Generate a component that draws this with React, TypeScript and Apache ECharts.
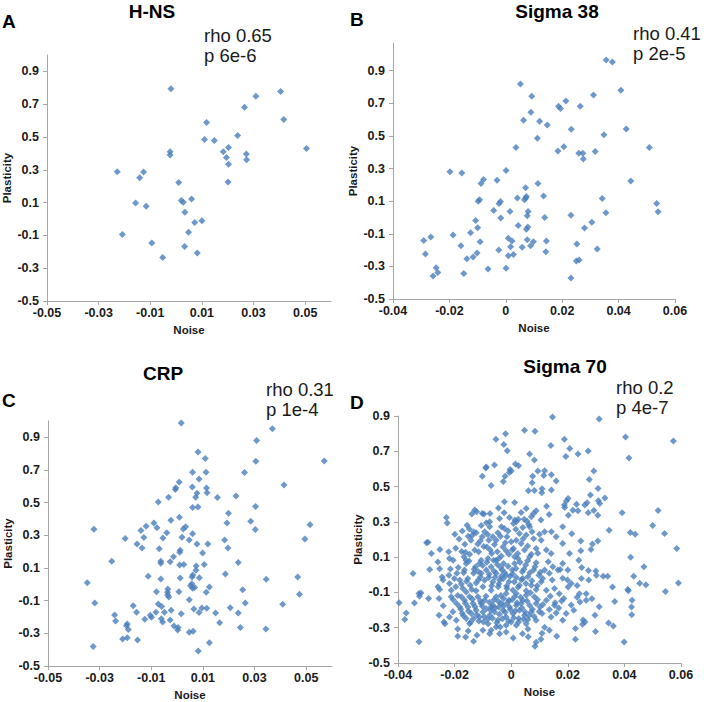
import React, { useEffect, useRef } from "react";
import * as echarts from "echarts";

const FONT = '"Liberation Sans", Arial, sans-serif';

const xTicksA = [-0.05, -0.03, -0.01, 0.01, 0.03, 0.05];
const xTicksB = [-0.04, -0.02, 0, 0.02, 0.04, 0.06];
const yTicks = [-0.5, -0.3, -0.1, 0.1, 0.3, 0.5, 0.7, 0.9];

const panelTitles = ["H-NS", "Sigma 38", "CRP", "Sigma 70"];
const panelLetters = ["A", "B", "C", "D"];
const rhoTexts = ["rho 0.65", "rho 0.41", "rho 0.31", "rho 0.2"];
const pTexts = ["p 6e-6", "p 2e-5", "p 1e-4", "p 4e-7"];

const hnsData = [
  [-0.002, 0.794], [0.0405, 0.778], [0.0309, 0.749], [0.0265, 0.682], [0.0417, 0.607], [0.0118, 0.589],
  [0.0238, 0.509], [0.011, 0.485], [0.0148, 0.479], [0.0505, 0.43], [0.0203, 0.436], [0.0183, 0.41],
  [-0.0023, 0.41], [-0.0023, 0.391], [0.0195, 0.375], [0.0272, 0.397], [0.0273, 0.361], [0.0203, 0.334],
  [-0.0228, 0.288], [-0.0126, 0.286], [-0.0141, 0.251], [0.001, 0.222], [0.0201, 0.225], [-0.0157, 0.098],
  [0.006, 0.122], [0.002, 0.113], [0.0028, 0.102], [-0.0116, 0.078], [0.0034, 0.041], [0.01, -0.011],
  [0.0072, -0.022], [-0.0208, -0.095], [0.0048, -0.081], [-0.0094, -0.146], [0.0033, -0.168],
  [0.0082, -0.207], [-0.0052, -0.235],
];

const sigma38Data = [
  [0.0356, 0.965], [0.0378, 0.953], [0.0052, 0.818], [0.0408, 0.78], [0.0092, 0.743], [0.0311, 0.751],
  [0.0213, 0.714], [0.0187, 0.682], [0.0194, 0.669], [0.0264, 0.682], [0.0089, 0.645], [0.0063, 0.596],
  [0.012, 0.59], [0.0147, 0.567], [0.0232, 0.541], [0.0427, 0.543], [0.0348, 0.508], [0.0112, 0.486],
  [0.0036, 0.429], [0.0206, 0.433], [0.0509, 0.429], [0.0185, 0.408], [0.0317, 0.404], [0.0259, 0.394],
  [0.0273, 0.394], [0.0275, 0.359], [-0.0198, 0.28], [-0.0156, 0.273], [0.0001, 0.288], [-0.0079, 0.233],
  [-0.0088, 0.208], [-0.0031, 0.229], [0.0114, 0.208], [0.0443, 0.224], [0.007, 0.182], [0.0134, 0.131],
  [0.0073, 0.129], [0.0041, 0.12], [0.0071, 0.12], [0.0066, 0.108], [0.0342, 0.116], [-0.0093, 0.108],
  [-0.0098, 0.1], [-0.0019, 0.098], [-0.0024, 0.086], [0.0535, 0.086], [0.054, 0.035], [0.0355, 0.029],
  [-0.0043, 0.043], [0.0015, 0.037], [0.0079, 0.037], [0.0076, 0.01], [0.0231, 0.014], [-0.0018, -0.004],
  [0.0138, 0.0], [-0.0107, -0.018], [0.0305, -0.029], [0.0044, -0.049], [0.0078, -0.059], [0.0073, -0.073],
  [-0.01, -0.063], [0.0279, -0.065], [-0.0187, -0.108], [-0.0125, -0.094], [-0.0291, -0.141], [-0.0266, -0.12],
  [-0.0091, -0.149], [0.0009, -0.127], [0.0022, -0.145], [0.0076, -0.137], [0.0098, -0.149], [0.0144, -0.145],
  [-0.0159, -0.173], [0.0017, -0.18], [0.0058, -0.182], [0.0088, -0.173], [0.0252, -0.163], [-0.0025, -0.2],
  [0.0324, -0.194], [-0.0285, -0.224], [-0.0102, -0.218], [0.0009, -0.235], [0.0027, -0.227], [0.0142, -0.21],
  [-0.0138, -0.253], [-0.0116, -0.243], [0.025, -0.267], [0.026, -0.261], [-0.0247, -0.308], [-0.0241, -0.337],
  [-0.0149, -0.343], [-0.0063, -0.316], [0.0001, -0.312], [-0.0258, -0.359], [0.0231, -0.371],
];

const crpData = [
  [0.0016, 0.988], [0.0369, 0.953], [0.0308, 0.88], [0.0081, 0.81], [0.0109, 0.771], [0.0305, 0.753],
  [0.057, 0.755], [0.0261, 0.684], [0.006, 0.686], [0.0112, 0.686], [0.0085, 0.645], [0.0008, 0.627],
  [0.0414, 0.608], [-0.0005, 0.592], [-0.0007, 0.58], [0.0059, 0.596], [0.0114, 0.59], [0.0077, 0.557],
  [0.0116, 0.561], [0.0072, 0.533], [-0.0033, 0.533], [0.0156, 0.531], [0.0228, 0.541], [-0.0073, 0.504],
  [0.006, 0.471], [0.0081, 0.473], [0.0304, 0.476], [0.0199, 0.435], [0.0009, 0.41], [-0.0024, 0.392],
  [0.0285, 0.386], [0.0193, 0.376], [-0.009, 0.376], [0.0515, 0.365], [-0.012, 0.355], [0.0033, 0.353],
  [-0.0078, 0.347], [0.0024, 0.339], [-0.0322, 0.337], [-0.014, 0.329], [-0.004, 0.316], [0.006, 0.31],
  [0.0303, 0.335], [-0.0201, 0.28], [-0.0129, 0.286], [-0.0055, 0.284], [0.0019, 0.288], [0.0047, 0.271],
  [0.0495, 0.278], [0.0184, 0.271], [-0.0155, 0.247], [0.0077, 0.247], [0.0119, 0.247], [0.0099, 0.192],
  [-0.0136, 0.222], [-0.0069, 0.218], [0.0197, 0.222], [0.0012, 0.208], [0.001, 0.196], [-0.0014, 0.169],
  [-0.0027, 0.139], [-0.0063, 0.141], [-0.0063, 0.129], [-0.0253, 0.141], [0.0237, 0.133], [0.001, 0.118],
  [0.0026, 0.122], [0.0074, 0.112], [0.0105, 0.122], [0.0073, 0.086], [-0.0112, 0.049], [0.0187, 0.063],
  [0.0061, 0.057], [0.0058, 0.045], [0.0012, 0.039], [0.0086, 0.041], [-0.0063, 0.033], [0.0467, 0.045],
  [0.0345, 0.031], [-0.0348, 0.01], [0.0057, 0.004], [0.0052, -0.008], [0.006, -0.024], [0.0068, -0.02],
  [0.0125, -0.016], [-0.0036, -0.029], [0.0254, -0.033], [-0.008, -0.045], [-0.0037, -0.049], [0.0007, -0.045],
  [0.0113, -0.049], [0.0047, -0.094], [-0.0037, -0.065], [-0.0032, -0.078], [0.0474, -0.061], [-0.0319, -0.114],
  [0.0264, -0.114], [-0.017, -0.131], [0.0409, -0.122], [-0.0073, -0.12], [-0.006, -0.135], [0.0206, -0.143],
  [0.0065, -0.151], [0.0096, -0.145], [0.0115, -0.147], [-0.0023, -0.159], [-0.0082, -0.171], [-0.0049, -0.171],
  [0.0016, -0.18], [0.0085, -0.173], [-0.0157, -0.171], [0.0149, -0.176], [0.0237, -0.176], [-0.0242, -0.188],
  [-0.0104, -0.19], [-0.0099, -0.202], [-0.0061, -0.21], [-0.0125, -0.214], [-0.0238, -0.224], [-0.0056, -0.231],
  [-0.0027, -0.218], [0.0165, -0.235], [-0.0193, -0.243], [-0.0196, -0.253], [-0.0012, -0.255], [0.0004, -0.265],
  [0.0002, -0.28], [-0.0189, -0.276], [0.0245, -0.265], [0.0344, -0.273], [0.0047, -0.294], [0.0062, -0.288],
  [-0.0193, -0.327], [-0.0211, -0.335], [-0.0153, -0.341], [0.0125, -0.357], [-0.0325, -0.38], [0.0082, -0.408],
];

const sigma70Data = [
  // upper sparse
  [0.0146, 0.895], [0.0311, 0.883], [-0.002, 0.8], [0.0047, 0.819], [0.0084, 0.813], [0.0404, 0.781],
  [0.0573, 0.758], [-0.0054, 0.768], [0.0188, 0.768], [-0.0026, 0.739], [0.014, 0.733], [0.0207, 0.716],
  [-0.0014, 0.703], [0.0065, 0.684], [0.0236, 0.684], [0.0272, 0.701], [0.0193, 0.671], [0.0416, 0.662],
  [0.0082, 0.65], [-0.0059, 0.622], [-0.0088, 0.611], [-0.009, 0.605], [0.0015, 0.628], [0.0026, 0.618],
  [-0.0004, 0.597], [0.0, 0.588], [0.0292, 0.588], [0.0118, 0.59], [0.0094, 0.588], [-0.0102, 0.559],
  [-0.0022, 0.558], [-0.0007, 0.58], [0.0142, 0.567], [0.0159, 0.531], [0.0115, 0.563], [0.0076, 0.559],
  [0.0276, 0.54], [-0.0071, 0.506], [-0.0028, 0.529], [0.0074, 0.522], [0.0061, 0.476], [0.0082, 0.478],
  [0.0109, 0.488], [0.0108, 0.465], [0.0142, 0.48], [0.0307, 0.489],
  // 0.5 .. 0.3
  [0.0201, 0.433], [0.0195, 0.418], [0.0188, 0.395], [0.028, 0.452], [0.0331, 0.435], [0.0308, 0.42],
  [0.0313, 0.404], [0.0268, 0.408], [0.026, 0.395], [0.0218, 0.366], [0.0231, 0.4], [0.0236, 0.363],
  [0.0292, 0.365], [0.0306, 0.338], [0.0272, 0.351], [0.0392, 0.351], [0.0519, 0.365], [-0.0024, 0.414],
  [0.0012, 0.41], [0.0053, 0.376], [0.0035, 0.353], [0.0125, 0.389], [0.0134, 0.342], [0.0189, 0.382],
  [0.0202, 0.338], [-0.0075, 0.348], [-0.0025, 0.351], [-0.0006, 0.325], [0.0013, 0.31], [0.0008, 0.291],
  [0.0018, 0.3], [0.0025, 0.315], [0.0046, 0.315], [0.0056, 0.304], [0.0062, 0.285], [-0.0041, 0.319],
  [-0.0076, 0.3], [-0.0229, 0.325], [-0.0226, 0.293], [-0.0139, 0.344], [-0.0129, 0.367], [-0.0122, 0.357],
  [-0.0102, 0.348], [-0.0096, 0.344], [-0.0045, 0.378], [0.0088, 0.363], [0.0079, 0.348], [0.0071, 0.329],
  [0.0105, 0.31],
  // 0.3 .. 0.1
  [-0.0199, 0.23], [-0.0299, 0.181], [-0.0294, 0.185], [-0.0282, 0.12], [-0.0252, 0.143], [-0.0221, 0.13],
  [-0.0218, 0.092], [-0.0205, 0.083], [-0.0175, 0.132], [-0.0164, 0.173], [-0.016, 0.083], [-0.0156, 0.281],
  [-0.0148, 0.259], [-0.0138, 0.223], [-0.0133, 0.244], [-0.0124, 0.238], [-0.0142, 0.196], [-0.0167, 0.102],
  [-0.0147, 0.117], [-0.0129, 0.14], [-0.0118, 0.174], [-0.0102, 0.215], [-0.0094, 0.244], [-0.0106, 0.279],
  [-0.0088, 0.295], [-0.0076, 0.272], [-0.0065, 0.215], [-0.0079, 0.196], [-0.0086, 0.158], [-0.0069, 0.12],
  [-0.0053, 0.196], [-0.0047, 0.238], [-0.0035, 0.272], [-0.0024, 0.262], [-0.0015, 0.215], [-0.0029, 0.158],
  [-0.0018, 0.136], [0.0, 0.187], [-0.0008, 0.117], [0.0008, 0.149], [0.0018, 0.196], [0.0029, 0.234],
  [0.0041, 0.268], [0.0053, 0.225], [0.0065, 0.272], [0.0074, 0.244], [0.0035, 0.177], [0.0047, 0.14],
  [0.0071, 0.117], [0.0088, 0.149], [0.0106, 0.196], [0.01, 0.23], [0.0012, 0.102], [-0.0035, 0.106],
  [-0.0053, 0.083], [-0.0106, 0.083], [0.0214, 0.232], [0.0246, 0.192], [0.0246, 0.136], [0.0282, 0.143],
  [0.0287, 0.174], [0.0306, 0.191], [0.0346, 0.253], [0.0421, 0.24], [0.0438, 0.23], [0.05, 0.279],
  [0.0542, 0.234], [0.0585, 0.149], [0.0422, 0.1], [0.0182, 0.272], [0.0142, 0.244], [0.0159, 0.215],
  [0.0182, 0.177], [0.0206, 0.121], [0.0141, 0.121], [0.0124, 0.14], [0.0118, 0.244],
  [-0.0196, 0.151], [-0.0184, 0.203], [-0.0173, 0.248], [-0.0161, 0.128], [-0.0152, 0.218], [-0.0115, 0.131],
  [-0.0109, 0.192], [-0.0097, 0.161], [-0.0083, 0.228], [-0.0074, 0.141], [-0.0059, 0.171], [-0.0049, 0.131],
  [-0.0038, 0.219], [-0.0021, 0.181], [-0.0011, 0.248], [0.0004, 0.141], [0.0016, 0.258], [0.0023, 0.121],
  [0.0042, 0.204], [0.0058, 0.163], [0.0079, 0.204], [0.0094, 0.122],
  // 0.1 .. -0.1
  [-0.0347, 0.007], [-0.0288, 0.03], [-0.0259, 0.073], [-0.0253, 0.034], [-0.0244, -0.012], [-0.022, -0.002],
  [-0.0215, 0.033], [-0.0192, 0.008], [-0.0182, -0.03], [-0.0196, -0.068], [-0.0165, 0.027], [-0.0153, -0.021],
  [-0.0171, -0.078], [-0.0145, -0.059], [-0.0133, 0.008], [-0.0126, 0.046], [-0.0112, 0.064], [-0.0106, 0.008],
  [-0.0116, -0.03], [-0.01, -0.068], [-0.0088, 0.027], [-0.0079, -0.015], [-0.0071, 0.046], [-0.0062, 0.083],
  [-0.0053, 0.008], [-0.0041, -0.03], [-0.0046, -0.068], [-0.0032, 0.027], [-0.0027, 0.064], [-0.0018, -0.002],
  [-0.0008, -0.04], [-0.0015, -0.078], [0.0004, 0.027], [0.0012, 0.064], [0.0018, -0.015], [0.0029, -0.059],
  [0.0039, 0.017], [0.0051, 0.055], [0.0059, -0.011], [0.0071, -0.059], [0.0079, 0.027], [0.0088, 0.068],
  [0.0098, -0.002], [0.0106, -0.04], [0.0118, 0.027], [0.0131, 0.074], [0.0135, 0.008], [0.0145, -0.03],
  [0.0153, -0.078], [0.0165, 0.027], [0.0173, 0.03], [0.0182, -0.019], [0.0199, -0.029], [0.0212, -0.05],
  [0.0201, -0.069], [0.0233, -0.061], [0.0249, 0.041], [0.0273, 0.024], [0.0299, 0.022], [0.0301, -0.002],
  [0.0325, -0.008], [0.0341, -0.008], [0.0248, -0.021], [0.0274, -0.029], [0.0239, 0.083], [0.0469, 0.045],
  [0.0433, -0.008], [0.0454, -0.048], [0.0476, -0.057], [0.0591, -0.046], [0.0545, -0.095], [0.0412, -0.084],
  [0.0414, -0.091], [0.0358, -0.069], [0.0182, 0.064], [0.0147, 0.046], [0.02, 0.027], [-0.0159, 0.064],
  [-0.0082, 0.093], [-0.0044, 0.093], [0.0024, 0.093], [0.0065, 0.102], [0.0041, -0.021], [-0.0035, -0.008],
  [-0.0065, -0.04], [-0.0071, -0.087], [0.0006, -0.087], [0.0053, -0.091], [0.0088, -0.083], [0.0124, -0.087],
  [-0.0124, -0.091], [-0.0159, -0.097], [-0.0212, -0.088], [-0.0241, -0.03], [-0.0259, -0.068], [-0.0218, -0.049],
  [-0.0201, -0.021], [-0.0187, 0.042], [-0.0176, -0.052], [-0.0168, 0.011], [-0.0158, -0.036], [-0.0149, 0.078],
  [-0.0139, -0.084], [-0.0131, 0.032], [-0.0124, -0.046], [-0.0117, 0.018], [-0.0109, -0.012], [-0.0101, 0.052],
  [-0.0094, -0.031], [-0.0086, 0.071], [-0.0078, 0.003], [-0.0069, -0.062], [-0.0061, 0.022], [-0.0057, -0.014],
  [-0.0049, 0.058], [-0.0043, -0.051], [-0.0037, 0.041], [-0.0029, -0.022], [-0.0023, 0.011], [-0.0016, -0.063],
  [-0.0011, 0.048], [-0.0004, -0.009], [0.0005, 0.004], [0.0011, -0.041], [0.0017, 0.036], [0.0024, -0.071],
  [0.0031, 0.071], [0.0036, -0.028], [0.0045, 0.031], [0.0052, -0.049], [0.0058, 0.079], [0.0066, 0.012],
  [0.0073, -0.034], [0.0084, 0.046], [0.0092, -0.062], [0.0103, 0.014], [0.0111, -0.021],
  // -0.1 .. -0.3
  [-0.0396, -0.158], [-0.0371, -0.216], [-0.0376, -0.254], [-0.0342, -0.16], [-0.0326, -0.106], [-0.0324, -0.122],
  [-0.0319, -0.103], [-0.0292, -0.135], [-0.0253, -0.084], [-0.0255, -0.135], [-0.0255, -0.229], [-0.024, -0.176],
  [-0.0238, -0.267], [-0.0234, -0.277], [-0.0212, -0.125], [-0.0193, -0.163], [-0.0182, -0.182], [-0.0173, -0.218],
  [-0.0206, -0.21], [-0.0218, -0.239], [-0.0194, -0.258], [-0.0165, -0.144], [-0.0147, -0.125], [-0.0153, -0.182],
  [-0.0135, -0.163], [-0.0141, -0.22], [-0.0124, -0.201], [-0.0133, -0.248], [-0.0112, -0.239], [-0.0106, -0.163],
  [-0.0094, -0.144], [-0.0088, -0.192], [-0.0076, -0.229], [-0.0098, -0.267], [-0.0082, -0.277], [-0.0065, -0.173],
  [-0.0053, -0.125], [-0.0059, -0.211], [-0.0047, -0.258], [-0.0035, -0.163], [-0.0029, -0.201], [-0.0039, -0.296],
  [-0.0018, -0.239], [-0.0008, -0.144], [-0.0006, -0.182], [0.0006, -0.22], [0.0, -0.267], [0.0012, -0.125],
  [0.0018, -0.173], [0.0029, -0.201], [0.0027, -0.248], [0.0041, -0.144], [0.0047, -0.229], [0.0053, -0.277],
  [0.0065, -0.173], [0.0071, -0.211], [0.0082, -0.125], [0.0088, -0.258], [0.0102, -0.182], [0.0109, -0.22],
  [0.0124, -0.144], [0.0135, -0.197], [0.0141, -0.239], [0.0153, -0.173], [0.0159, -0.216], [0.0155, -0.158],
  [0.017, -0.107], [0.0186, -0.135], [0.0241, -0.107], [0.0265, -0.107], [0.0233, -0.127], [0.0243, -0.154],
  [0.0265, -0.144], [0.0366, -0.152], [0.0427, -0.144], [0.0425, -0.182], [0.0426, -0.226], [0.0254, -0.256],
  [0.0261, -0.267], [0.0252, -0.281], [0.0344, -0.273], [0.0361, -0.29], [0.0194, -0.22], [0.0182, -0.258],
  [0.0118, -0.298], [-0.0176, -0.125], [-0.0159, -0.248], [-0.0147, -0.277], [-0.0118, -0.125], [-0.01, -0.211],
  [-0.0071, -0.182], [-0.0044, -0.182], [-0.0027, -0.135], [-0.0018, -0.106], [0.0018, -0.106], [0.0053, -0.116],
  [0.0035, -0.163], [0.0059, -0.254], [0.0088, -0.163], [-0.0018, -0.286], [0.0018, -0.286], [-0.0053, -0.296],
  [-0.0071, -0.315],
  [-0.0205, -0.142], [-0.0189, -0.118], [-0.0178, -0.196], [-0.0169, -0.232], [-0.0162, -0.161], [-0.0151, -0.205],
  [-0.0143, -0.268], [-0.0137, -0.139], [-0.0128, -0.181], [-0.0121, -0.226], [-0.0114, -0.262], [-0.0109, -0.148],
  [-0.0102, -0.178], [-0.0095, -0.238], [-0.0089, -0.121], [-0.0083, -0.252], [-0.0077, -0.156], [-0.0072, -0.203],
  [-0.0066, -0.246], [-0.0061, -0.141], [-0.0057, -0.188], [-0.0051, -0.272], [-0.0045, -0.151], [-0.0042, -0.224],
  [-0.0036, -0.117], [-0.0031, -0.249], [-0.0026, -0.176], [-0.0021, -0.213], [-0.0013, -0.158], [-0.0009, -0.262],
  [-0.0003, -0.197], [0.0003, -0.141], [0.0009, -0.243], [0.0014, -0.205], [0.0021, -0.158], [0.0026, -0.268],
  [0.0033, -0.128], [0.0038, -0.188], [0.0044, -0.252], [0.0049, -0.211], [0.0056, -0.148], [0.0063, -0.231],
  [0.0068, -0.102], [0.0075, -0.196], [0.0081, -0.237], [0.0093, -0.141], [0.0099, -0.208], [0.0112, -0.168],
  [0.0138, -0.121], [0.0168, -0.188], [0.0178, -0.148], [0.0212, -0.171], [0.0221, -0.201], [0.0285, -0.136],
  [0.0296, -0.229], [0.0311, -0.181],
  // below -0.3
  [-0.0189, -0.307], [-0.0189, -0.349], [-0.0152, -0.318], [-0.0161, -0.353], [-0.0133, -0.377], [-0.0121, -0.343],
  [-0.0326, -0.379], [-0.01, -0.315], [-0.0076, -0.334], [-0.0041, -0.334], [-0.0018, -0.324], [0.0007, -0.358],
  [0.004, -0.334], [0.0059, -0.307], [0.006, -0.351], [0.0084, -0.405], [0.0105, -0.366], [0.0088, -0.383],
  [0.0109, -0.332], [0.0161, -0.349], [0.0227, -0.305], [0.0227, -0.366], [0.0298, -0.322], [0.0399, -0.381],
  [0.0135, -0.315],
];

const panelData = [hnsData, sigma38Data, crpData, sigma70Data];

const AXIS_COLOR = "#a6a6a6";
const LABEL_COLOR = "#1a1a1a";

const grids = [
  { left: 46, top: 55, width: 285, height: 246 },
  { left: 393, top: 43, width: 282, height: 256 },
  { left: 48, top: 421, width: 284, height: 245 },
  { left: 398, top: 416, width: 283, height: 247 },
];
const xRanges = [
  [-0.05, 0.06],
  [-0.04, 0.06],
  [-0.05, 0.06],
  [-0.04, 0.06],
];
const yMaxes = [1.0, 1.07, 1.0, 0.9];
const xTickSets = [xTicksA, xTicksB, xTicksA, xTicksB];

const letterPos = [
  { left: 2, top: 12 },
  { left: 350, top: 10 },
  { left: 2, top: 391 },
  { left: 350, top: 393 },
];
const titlePos = [
  { left: 152, top: 2 },
  { left: 557, top: 2 },
  { left: 163, top: 364 },
  { left: 565, top: 357 },
];
const rhoPos = [
  { left: 204, top: 25 },
  { left: 633, top: 23 },
  { left: 266, top: 379 },
  { left: 616, top: 377 },
];

function fmt(v: number) {
  return String(v);
}

export default function App() {
  const ref = useRef<HTMLDivElement>(null);
  useEffect(() => {
    document.body.style.margin = "0";
    if (!ref.current) return;
    const chart = echarts.init(ref.current, undefined, { renderer: "svg" });
    const titles: any[] = [];
    for (let i = 0; i < 4; i++) {
      titles.push({
        text: panelLetters[i],
        left: letterPos[i].left,
        top: letterPos[i].top,
        padding: 0,
        textStyle: { fontSize: 19, fontWeight: "bold", color: "#000", fontFamily: FONT },
      });
      titles.push({
        text: panelTitles[i],
        left: titlePos[i].left,
        top: titlePos[i].top,
        textAlign: "center",
        padding: 0,
        textStyle: { fontSize: 19, fontWeight: "bold", color: "#000", fontFamily: FONT },
      });
      titles.push({
        text: rhoTexts[i] + "\n" + pTexts[i],
        left: rhoPos[i].left,
        top: rhoPos[i].top,
        padding: 0,
        textStyle: { fontSize: 18.5, fontWeight: "normal", color: "#1a1a1a", fontFamily: FONT, lineHeight: 20 },
      });
    }
    const xAxes = xTickSets.map((ticks, i) => ({
      gridIndex: i,
      type: "value",
      min: xRanges[i][0],
      max: xRanges[i][1],
      axisLine: { show: true, onZero: false, lineStyle: { color: AXIS_COLOR, width: 1 } },
      axisTick: { show: true, customValues: ticks, length: 4, lineStyle: { color: AXIS_COLOR } },
      axisLabel: {
        customValues: ticks,
        margin: 5,
        fontSize: 12.5,
        fontWeight: "bold",
        color: LABEL_COLOR,
        fontFamily: FONT,
        formatter: fmt,
      },
      splitLine: { show: false },
      name: "Noise",
      nameLocation: "middle",
      nameGap: 23,
      nameTextStyle: { fontSize: 11.5, fontWeight: "bold", color: LABEL_COLOR, fontFamily: FONT },
    }));
    const yAxes = yMaxes.map((mx, i) => ({
      gridIndex: i,
      type: "value",
      min: -0.5,
      max: mx,
      axisLine: { show: true, onZero: false, lineStyle: { color: AXIS_COLOR, width: 1 } },
      axisTick: { show: true, customValues: yTicks, length: 4, lineStyle: { color: AXIS_COLOR } },
      axisLabel: {
        customValues: yTicks,
        margin: 8,
        fontSize: 12.5,
        fontWeight: "bold",
        color: LABEL_COLOR,
        fontFamily: FONT,
        formatter: fmt,
      },
      splitLine: { show: false },
      name: "Plasticity",
      nameLocation: "middle",
      nameGap: 34,
      nameTextStyle: { fontSize: 11.5, fontWeight: "bold", color: LABEL_COLOR, fontFamily: FONT },
    }));
    const series = panelData.map((d, i) => ({
      type: "scatter",
      xAxisIndex: i,
      yAxisIndex: i,
      data: d,
      symbol: "diamond",
      symbolSize: 7,
      itemStyle: { color: "#4a7ebb" },
    }));
    chart.setOption({
      animation: false,
      backgroundColor: "#fff",
      title: titles,
      grid: grids,
      xAxis: xAxes,
      yAxis: yAxes,
      series,
    });
    return () => chart.dispose();
  }, []);
  return <div ref={ref} style={{ width: 704, height: 702 }} />;
}
